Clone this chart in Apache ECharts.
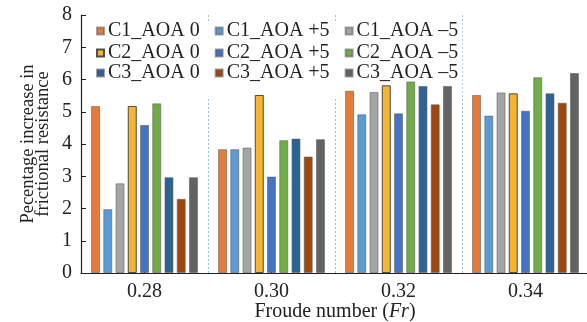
<!DOCTYPE html>
<html>
<head>
<meta charset="utf-8">
<script src="https://cdn.jsdelivr.net/npm/echarts@6/dist/echarts.min.js"></script>
<style>
  html, body { margin: 0; padding: 0; background: #fff; }
  #chart { width: 587px; height: 322px; }
</style>
</head>
<body>
<div id="chart"></div>
<script>
// Froude numbers on the x axis
const froude = ['0.28', '0.30', '0.32', '0.34'];

// Percentage increase in frictional resistance, one list per case
const c1Aoa0     = [5.18, 3.84, 5.65, 5.52];
const c1AoaPlus5 = [1.98, 3.84, 4.92, 4.88];
const c1AoaMin5  = [2.78, 3.89, 5.61, 5.60];
const c2Aoa0     = [5.18, 5.52, 5.82, 5.57];
const c2AoaPlus5 = [4.59, 2.99, 4.95, 5.03];
const c2AoaMin5  = [5.26, 4.12, 5.94, 6.07];
const c3Aoa0     = [2.97, 4.17, 5.80, 5.57];
const c3AoaPlus5 = [2.30, 3.61, 5.23, 5.28];
const c3AoaMin5  = [2.97, 4.15, 5.80, 6.20];

const yTicks = [0, 1, 2, 3, 4, 5, 6, 7, 8];

const seriesDefs = [
  { name: 'C1_AOA 0',  data: c1Aoa0,     color: '#E67A3A', border: 'rgba(90,90,90,0.55)' },
  { name: 'C1_AOA +5', data: c1AoaPlus5, color: '#5B9BD5', border: 'rgba(90,90,90,0.55)' },
  { name: 'C1_AOA \u20135', data: c1AoaMin5,  color: '#A5A5A5', border: 'rgba(90,90,90,0.55)' },
  { name: 'C2_AOA 0',  data: c2Aoa0,     color: '#F5B431', border: 'rgba(50,50,50,0.85)' },
  { name: 'C2_AOA +5', data: c2AoaPlus5, color: '#4472C4', border: 'rgba(90,90,90,0.55)' },
  { name: 'C2_AOA \u20135', data: c2AoaMin5,  color: '#70AD47', border: 'rgba(90,90,90,0.55)' },
  { name: 'C3_AOA 0',  data: c3Aoa0,     color: '#2D6295', border: 'rgba(90,90,90,0.55)' },
  { name: 'C3_AOA +5', data: c3AoaPlus5, color: '#9E480E', border: 'rgba(90,90,90,0.55)' },
  { name: 'C3_AOA \u20135', data: c3AoaMin5,  color: '#636363', border: 'rgba(90,90,90,0.55)' }
];

const font = '"Liberation Serif", "Times New Roman", serif';

const chart = echarts.init(document.getElementById('chart'), null, { renderer: 'canvas' });

// one legend per row of three; the white box sits above the grid lines but below the bars
const legendRow = (names, top, padBottom) => ({
  data: names,
  left: 92,
  top: top,
  z: 1,
  orient: 'horizontal',
  itemWidth: 7,
  itemHeight: 7,
  itemGap: 15,
  icon: 'rect',
  padding: [0, 4, padBottom, 4],
  backgroundColor: '#fff',
  textStyle: { fontFamily: font, fontSize: 20, color: '#222', padding: [0, 0, 0, -1] }
});

chart.setOption({
  backgroundColor: '#fff',
  animation: false,
  grid: { left: 81, right: -2, top: 15, bottom: 49, containLabel: false, outerBoundsMode: 'none' },
  legend: [
    legendRow(seriesDefs.slice(0, 3).map(s => s.name), 21, 2),
    legendRow(seriesDefs.slice(3, 6).map(s => s.name), 43, 2),
    legendRow(seriesDefs.slice(6, 9).map(s => s.name), 63, 14)
  ],
  xAxis: {
    type: 'category',
    data: froude,
    boundaryGap: true,
    axisLine: { lineStyle: { color: '#222', width: 1.2 } },
    axisTick: { show: true, inside: true, alignWithLabel: true, length: 4, lineStyle: { color: '#222' } },
    axisLabel: { fontFamily: font, fontSize: 20, color: '#222', margin: 9 },
    splitLine: { show: true, lineStyle: { color: '#9DC3E6', type: [2, 2], width: 1 } },
    name: '{n|Froude number (}{i|Fr}{n|)}',
    nameLocation: 'middle',
    nameMoveOverlap: false,
    nameGap: 29,
    nameTextStyle: {
      rich: {
        n: { fontFamily: font, fontSize: 20, color: '#222', lineHeight: 20 },
        i: { fontFamily: font, fontSize: 20, color: '#222', fontStyle: 'italic', lineHeight: 20 }
      }
    }
  },
  yAxis: {
    type: 'value',
    min: yTicks[0],
    max: yTicks[yTicks.length - 1],
    interval: 1,
    axisLine: { show: true, lineStyle: { color: '#222', width: 1.2 } },
    axisTick: { show: true, inside: true, length: 5, lineStyle: { color: '#222' } },
    axisLabel: { fontFamily: font, fontSize: 20, color: '#222', margin: 9 },
    splitLine: { show: false },
    name: 'Pecentage increase in\nfrictional resistance',
    nameLocation: 'middle',
    nameMoveOverlap: false,
    nameGap: 30,
    nameTextStyle: { fontFamily: font, fontSize: 18.5, color: '#222', lineHeight: 15 }
  },
  series: seriesDefs.map(s => ({
    name: s.name,
    type: 'bar',
    z: 3,
    data: s.data,
    barWidth: 9,
    barGap: '36%',
    itemStyle: { color: s.color, borderColor: s.border, borderWidth: 1 }
  }))
});
</script>
</body>
</html>
